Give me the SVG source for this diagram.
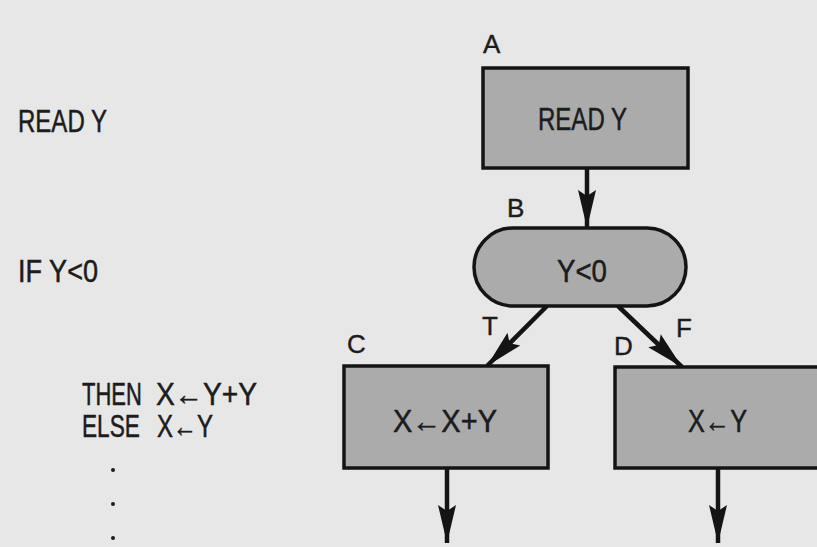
<svg xmlns="http://www.w3.org/2000/svg" width="817" height="547" viewBox="0 0 817 547">
<style>
.t{font-family:"Liberation Sans",Arial,sans-serif;font-size:31px;fill:#1c1c1c;stroke:#1c1c1c;stroke-width:0.5}
.l{font-family:"Liberation Sans",Arial,sans-serif;font-size:26px;fill:#1c1c1c;stroke:#1c1c1c;stroke-width:0.4}
.box{fill:#ababab;stroke:#141414;stroke-width:3.5}
.c{stroke:#141414;stroke-width:4.5;fill:none}
</style>
<defs>
<marker id="ah" markerUnits="userSpaceOnUse" markerWidth="40" markerHeight="20" refX="38" refY="10" orient="auto">
<path d="M0,1 L38,10 L0,19 L6,10 z" fill="#141414"/>
</marker>
</defs>
<rect x="0" y="0" width="817" height="547" fill="#e7e7e7"/>
<g id="code">
<text class="t" x="18" y="132" textLength="89" lengthAdjust="spacingAndGlyphs">READ Y</text>
<text class="t" x="18" y="282" textLength="80" lengthAdjust="spacingAndGlyphs">IF Y&lt;0</text>
<text class="t" transform="translate(82 405) scale(0.71 1)" x="0" y="0">THEN</text>
<text class="t" x="156" y="405" textLength="101" lengthAdjust="spacingAndGlyphs">X←Y+Y</text>
<text class="t" transform="translate(82 437) scale(0.73 1)" x="0" y="0">ELSE</text>
<text class="t" x="157" y="437" textLength="56" lengthAdjust="spacingAndGlyphs">X←Y</text>
<circle cx="113" cy="470" r="2" fill="#1c1c1c"/>
<circle cx="113" cy="504" r="2" fill="#1c1c1c"/>
<circle cx="113" cy="538" r="2" fill="#1c1c1c"/>
</g>
<g id="connectors">
<line class="c" x1="587" y1="168" x2="587" y2="228" marker-end="url(#ah)"/>
<line class="c" x1="547" y1="306" x2="487" y2="366" marker-end="url(#ah)"/>
<line class="c" x1="618" y1="306" x2="682" y2="367" marker-end="url(#ah)"/>
<line class="c" x1="447" y1="468" x2="447" y2="543" marker-end="url(#ah)"/>
<line class="c" x1="718" y1="468" x2="718" y2="543" marker-end="url(#ah)"/>
</g>
<g id="nodeA">
<rect class="box" x="483" y="68" width="205" height="100"/>
<text class="t" x="538" y="130" textLength="89" lengthAdjust="spacingAndGlyphs">READ Y</text>
<text class="l" x="483" y="53">A</text>
</g>
<g id="nodeB">
<rect class="box" x="474" y="228" width="212" height="78" rx="39" ry="39"/>
<text class="t" x="557" y="282" textLength="50" lengthAdjust="spacingAndGlyphs">Y&lt;0</text>
<text class="l" x="507" y="217">B</text>
</g>
<g id="nodeC">
<rect class="box" x="344" y="366" width="204" height="102"/>
<text class="t" x="393" y="432" textLength="104" lengthAdjust="spacingAndGlyphs">X←X+Y</text>
<text class="l" x="347" y="353">C</text>
</g>
<g id="nodeD">
<rect class="box" x="615" y="367" width="220" height="101"/>
<text class="t" x="688" y="432" textLength="59" lengthAdjust="spacingAndGlyphs">X←Y</text>
<text class="l" x="614" y="355">D</text>
</g>
<g id="labels">
<text class="l" x="482" y="335">T</text>
<text class="l" x="676" y="337">F</text>
</g>
</svg>
